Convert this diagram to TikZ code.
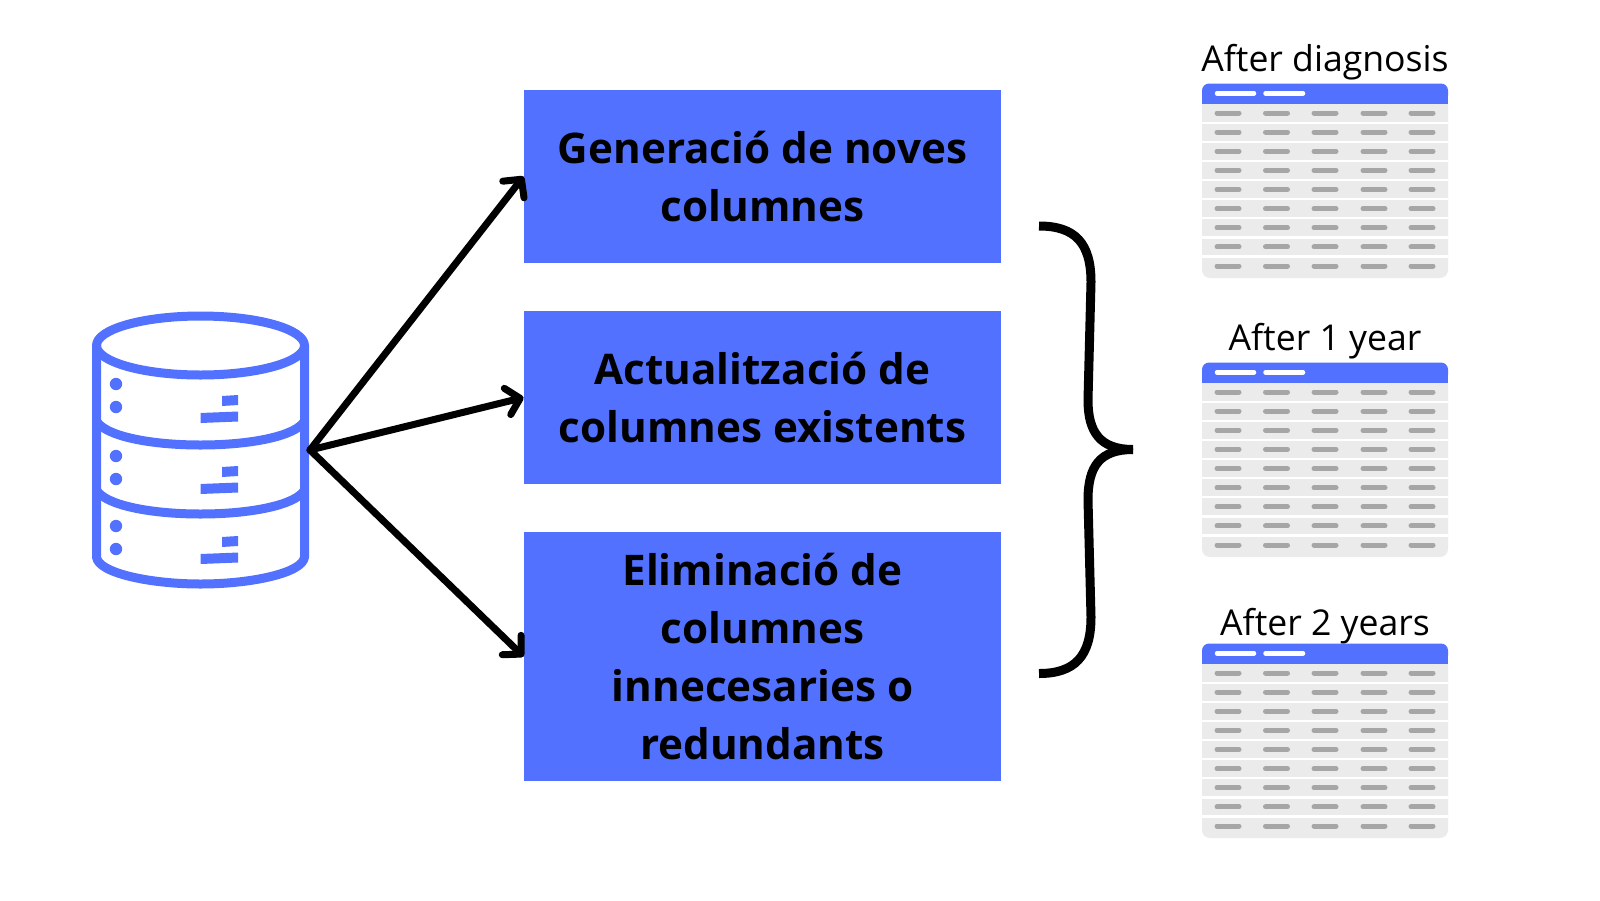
\documentclass[tikz,border=0pt]{standalone}
\usepackage{fontspec}
\setmainfont{Open Sans}
\usetikzlibrary{arrows.meta}
\definecolor{boxblue}{HTML}{5271FF}
\definecolor{rowgray}{HTML}{EBEBEB}
\definecolor{markgray}{HTML}{A6A6A6}
\begin{document}
\begin{tikzpicture}[
    x=1pt, y=-1pt,
    box/.style={fill=boxblue, minimum width=477.5pt, align=center, inner sep=0pt,
      font=\fontsize{42.2}{58}\selectfont\bfseries},
    title/.style={font=\fontsize{35.6}{40}\selectfont, inner sep=0pt},
    dbline/.style={draw=boxblue, line width=9pt, line join=round},
    rowmark/.style={line width=5pt, line cap=round, markgray},
    flow/.style={->, line width=7pt, line cap=round},
    >={Straight Barb[length=13pt, width=27pt, round]}
  ]
  \useasboundingbox (0,0) rectangle (1600,900);

  \node (gen) [box, minimum height=172.5pt] at (762.5,176.5) {Generació de noves\\columnes};
  \node (act) [box, minimum height=172.5pt] at (762.5,397.5) {Actualització de\\columnes existents};
  \node (eli) [box, minimum height=249.5pt] at (762.5,656.5) {Eliminació de\\columnes\\innecesaries o\\redundants};

  % database
  \draw[dbline] (200.5,345.5) ellipse [x radius=104, y radius=29.5];
  \draw[dbline] (96.5,345) -- (96.5,557) .. controls (98,573) and (150,584) .. (200.5,584)
    .. controls (251,584) and (303,573) .. (304.5,557) -- (304.5,345);
  \draw[dbline] (96.5,421) .. controls (105,436) and (150,445) .. (200.5,445)
    .. controls (251,445) and (296,436) .. (304.5,421);
  \draw[dbline] (96.5,490) .. controls (105,505) and (150,514) .. (200.5,514)
    .. controls (251,514) and (296,505) .. (304.5,490);
  \foreach \y/\a/\b in {384/407/0, 456/479/71, 526/549/141} {
    \fill[boxblue] (116,\y) circle (6.2);
    \fill[boxblue] (116,\a) circle (6.2);
    \fill[boxblue] (222,396+\b) -- (238,395+\b) -- (238,405+\b) -- (222,406+\b) -- cycle;
    \fill[boxblue] (200.5,413+\b) -- (238,411.5+\b) -- (238,421.5+\b) -- (200.5,423+\b) -- cycle;
  }

  % arrows
  \coordinate (fan) at (310,450);
  \draw[flow] (fan) -- (gen.west);
  \draw[flow] (fan) -- (act.west);
  \draw[flow] (fan) -- (eli.west);

  % brace
  \coordinate (bracetop) at (1039,226);
  \coordinate (bracetip) at (1133,449.5);
  \coordinate (bracebot) at (1039,673.5);
  \draw[line width=9pt] (bracetop) .. controls (1075,226) and (1091,243) .. (1091,282)
    -- (1088,400) .. controls (1088,432) and (1100,449.5) .. (bracetip);
  \draw[line width=9pt] (bracebot) .. controls (1075,673.5) and (1091,656) .. (1091,617)
    -- (1088,500) .. controls (1088,466) and (1100,449.5) .. (bracetip);

  % tables
  \foreach \name/\txt/\dy/\ty in {tdiag/After diagnosis/0/62, tone/After 1 year/279/62, ttwo/After 2 years/560/66} {
    \begin{scope}[yshift=-\dy pt]
      \node (\name) [title] at (1325,\ty) {\txt};
      \fill[rowgray, rounded corners=8pt] (1202,95) -- (1202,278) -- (1448,278) -- (1448,95) -- cycle;
      \fill[boxblue, rounded corners=7pt] (1202,103) -- (1202,83.5) -- (1448,83.5) -- (1448,103) -- cycle;
      \fill[boxblue] (1202,93) rectangle (1448,103.5);
      \foreach \i in {1,...,8}
        \draw[white, line width=2.2pt] (1202,103.5+19.13*\i) -- (1448,103.5+19.13*\i);
      \draw[white, line width=4.5pt, line cap=round] (1217,93.3) -- (1254,93.3);
      \draw[white, line width=4.5pt, line cap=round] (1265.5,93.3) -- (1303,93.3);
      \foreach \i in {0,...,8}
        \foreach \x in {1217,1265.5,1314,1363,1411}
          \draw[rowmark] (\x,113+19.13*\i) -- (\x+22,113+19.13*\i);
    \end{scope}
  }
\end{tikzpicture}
\end{document}
